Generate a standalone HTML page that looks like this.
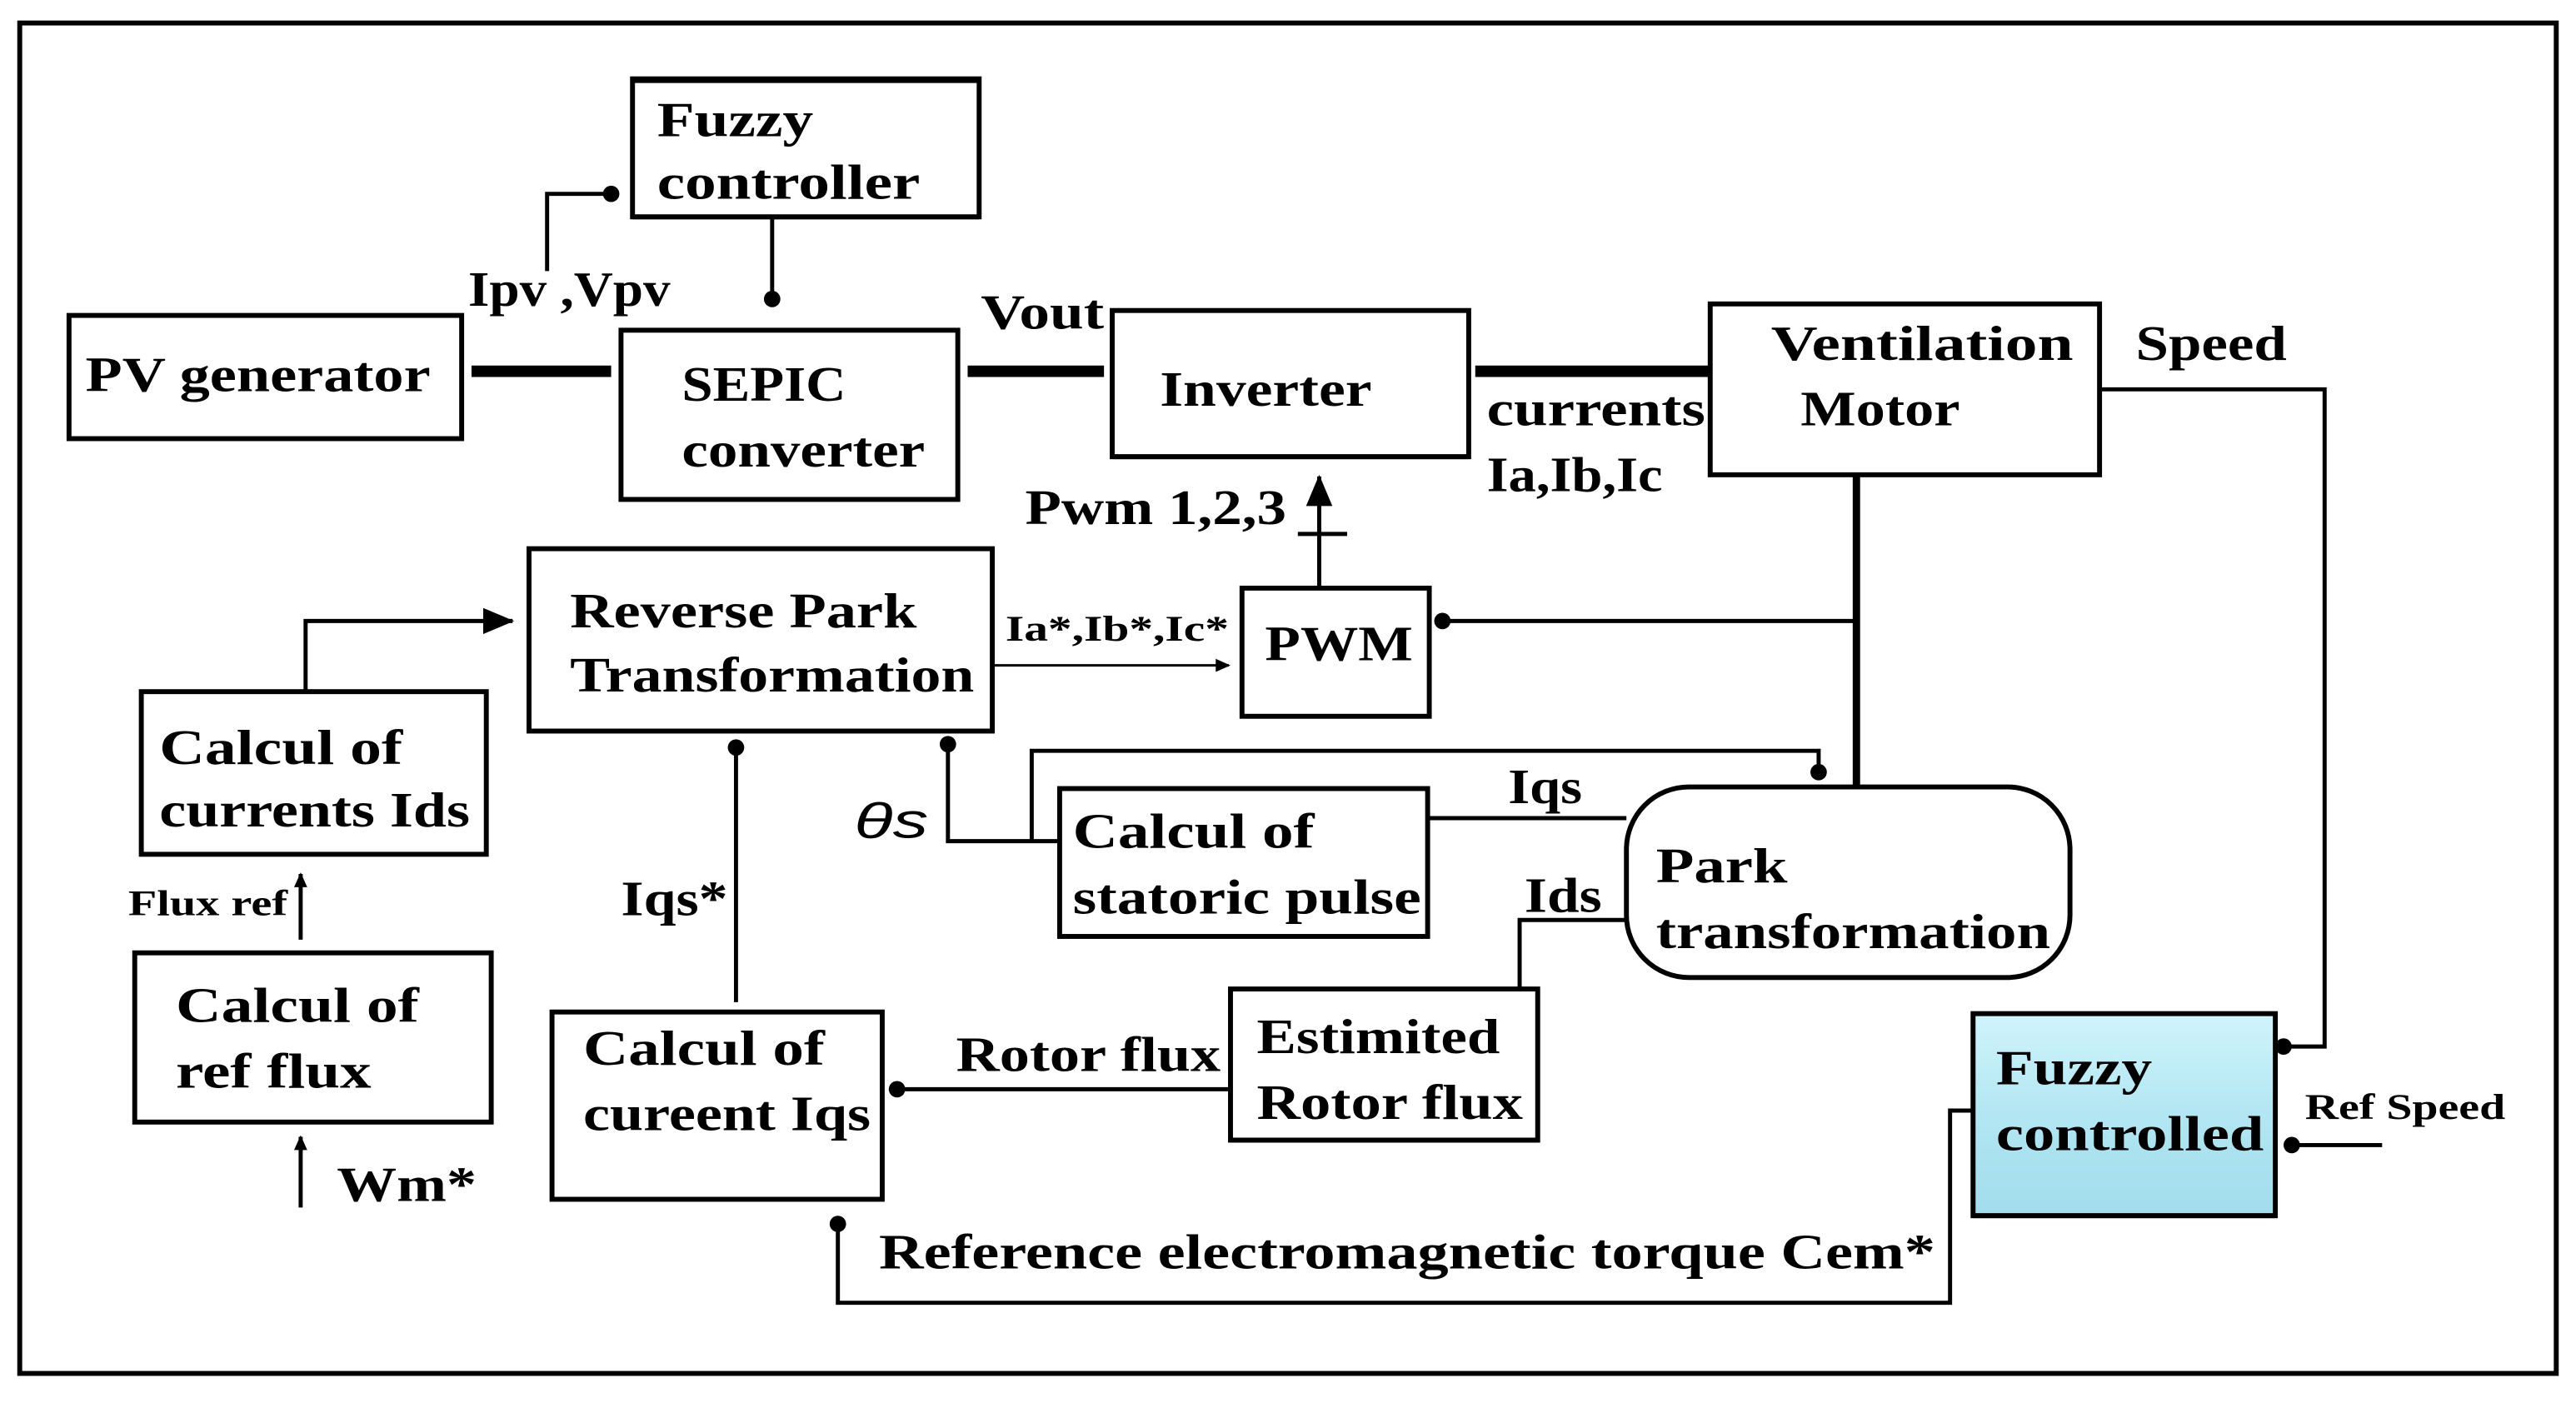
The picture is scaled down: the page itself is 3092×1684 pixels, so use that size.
<!DOCTYPE html>
<html><head><meta charset="utf-8"><style>
html,body{margin:0;padding:0;background:#fff;}
svg{display:block;}
text{font-family:"Liberation Serif",serif;font-weight:bold;font-size:30px;fill:#000;}
.s{font-size:22px;}
</style></head><body>
<svg width="3092" height="1684" viewBox="0 0 1568 854" xmlns="http://www.w3.org/2000/svg">
<defs>
<linearGradient id="g" x1="0" y1="0" x2="0" y2="1"><stop offset="0" stop-color="#d0f4fc"/><stop offset="0.5" stop-color="#b2e6f2"/><stop offset="1" stop-color="#a2dcec"/></linearGradient>
<marker id="a" markerWidth="10" markerHeight="10" refX="8" refY="5" orient="auto" markerUnits="userSpaceOnUse"><path d="M0,1 L9,5 L0,9 Z" fill="#000"/></marker>
<marker id="ab" markerWidth="20" markerHeight="16" refX="18" refY="8" orient="auto" markerUnits="userSpaceOnUse"><path d="M0,0 L19,8 L0,16 Z" fill="#000"/></marker>
</defs>
<rect x="12" y="14" width="1544" height="822" fill="none" stroke="#000" stroke-width="3"/>
<g fill="none" stroke="#000" stroke-width="3">
<rect x="385" y="48" width="211" height="84"/>
<rect x="42" y="192" width="239" height="75"/>
<rect x="378" y="201" width="205" height="103"/>
<rect x="677" y="189" width="217" height="89"/>
<rect x="1041" y="185" width="237" height="104"/>
<rect x="756" y="358" width="114" height="78"/>
<rect x="322" y="334" width="282" height="111"/>
<rect x="86" y="421" width="210" height="99"/>
<rect x="82" y="580" width="217" height="103"/>
<rect x="336" y="616" width="201" height="114"/>
<rect x="749" y="602" width="187" height="92"/>
<rect x="645" y="480" width="224" height="90"/>
<rect x="990" y="479" width="270" height="116" rx="38"/>
<rect x="1201" y="617" width="184" height="123" fill="url(#g)"/>
</g>
<g stroke="#000" stroke-width="3">
<line x1="385" y1="132" x2="596" y2="132"/><line x1="385" y1="49" x2="596" y2="49"/>
<line x1="677" y1="278" x2="894" y2="278"/><line x1="749" y1="694" x2="936" y2="694"/>
<line x1="1201" y1="740" x2="1385" y2="740"/>
</g>
<g fill="none" stroke="#000" stroke-width="2.5">
<polyline points="470,132 470,182"/>
<polyline points="333,165 333,118 370,118"/>
<polyline points="1278,237 1415,237 1415,637 1392,637"/>
<polyline points="1130,378 880,378"/>
<polyline points="803,358 803,290" marker-end="url(#ab)"/>
<line x1="790" y1="325" x2="820" y2="325"/>
<polyline points="186,420 186,378 312,378" marker-end="url(#ab)"/>
<polyline points="183,572 183,532" marker-end="url(#a)"/>
<polyline points="183,735 183,692" marker-end="url(#a)"/>
<polyline points="448,610 448,455"/>
<polyline points="748,663 548,663"/>
<polyline points="925,601 925,560 990,560"/>
<polyline points="869,498 990,498"/>
<polyline points="645,512 577,512 577,452"/>
<polyline points="628,512 628,457 1107,457 1107,470"/>
<polyline points="1450,697 1396,697"/>
<polyline points="1201,676 1187,676 1187,793 510,793 510,747"/>
<line x1="604" y1="405" x2="748" y2="405" stroke-width="1.5" marker-end="url(#a)"/>
</g>
<line x1="1130" y1="289" x2="1130" y2="478" stroke="#000" stroke-width="4.5"/>
<g stroke="#000" stroke-width="7">
<line x1="287" y1="226" x2="372" y2="226"/>
<line x1="589" y1="226" x2="672" y2="226"/>
<line x1="898" y1="226" x2="1040" y2="226"/>
</g>
<g fill="#000">
<circle cx="470" cy="182" r="5"/><circle cx="372" cy="118" r="5"/>
<circle cx="1390" cy="637" r="5"/><circle cx="878" cy="378" r="5"/>
<circle cx="448" cy="455" r="5"/><circle cx="546" cy="663" r="5"/>
<circle cx="577" cy="453" r="5"/><circle cx="1107" cy="470" r="5"/>
<circle cx="1395" cy="697" r="5"/><circle cx="510" cy="745" r="5"/>
</g>
<g lengthAdjust="spacingAndGlyphs">
<text x="400" y="83" textLength="95" lengthAdjust="spacingAndGlyphs">Fuzzy</text>
<text x="400" y="121" textLength="160" lengthAdjust="spacingAndGlyphs">controller</text>
<text x="285" y="186" textLength="123" lengthAdjust="spacingAndGlyphs">Ipv ,Vpv</text>
<text x="52" y="238" textLength="210" lengthAdjust="spacingAndGlyphs">PV generator</text>
<text x="415" y="244" textLength="100" lengthAdjust="spacingAndGlyphs">SEPIC</text>
<text x="415" y="284" textLength="148" lengthAdjust="spacingAndGlyphs">converter</text>
<text x="597" y="200" textLength="75" lengthAdjust="spacingAndGlyphs">Vout</text>
<text x="706" y="247" textLength="129" lengthAdjust="spacingAndGlyphs">Inverter</text>
<text x="905" y="259" textLength="133" lengthAdjust="spacingAndGlyphs">currents</text>
<text x="905" y="299" textLength="107" lengthAdjust="spacingAndGlyphs">Ia,Ib,Ic</text>
<text x="1078" y="219" textLength="184" lengthAdjust="spacingAndGlyphs">Ventilation</text>
<text x="1096" y="259" textLength="97" lengthAdjust="spacingAndGlyphs">Motor</text>
<text x="1300" y="219" textLength="92" lengthAdjust="spacingAndGlyphs">Speed</text>
<text x="624" y="319" textLength="159" lengthAdjust="spacingAndGlyphs">Pwm 1,2,3</text>
<text x="770" y="402" textLength="90" lengthAdjust="spacingAndGlyphs">PWM</text>
<text x="347" y="382" textLength="211" lengthAdjust="spacingAndGlyphs">Reverse Park</text>
<text x="347" y="421" textLength="246" lengthAdjust="spacingAndGlyphs">Transformation</text>
<text x="612" y="390" class="s" textLength="136" lengthAdjust="spacingAndGlyphs">Ia*,Ib*,Ic*</text>
<text x="97" y="465" textLength="148" lengthAdjust="spacingAndGlyphs">Calcul of</text>
<text x="97" y="503" textLength="189" lengthAdjust="spacingAndGlyphs">currents Ids</text>
<text x="78" y="557" class="s" textLength="97" lengthAdjust="spacingAndGlyphs">Flux ref</text>
<text x="107" y="622" textLength="148" lengthAdjust="spacingAndGlyphs">Calcul of</text>
<text x="107" y="662" textLength="119" lengthAdjust="spacingAndGlyphs">ref flux</text>
<text x="205" y="731" font-size="26" textLength="85" lengthAdjust="spacingAndGlyphs">Wm*</text>
<text x="378" y="557" textLength="65" lengthAdjust="spacingAndGlyphs">Iqs*</text>
<text x="355" y="648" textLength="147" lengthAdjust="spacingAndGlyphs">Calcul of</text>
<text x="355" y="688" textLength="175" lengthAdjust="spacingAndGlyphs">cureent Iqs</text>
<text x="582" y="652" textLength="161" lengthAdjust="spacingAndGlyphs">Rotor flux</text>
<text x="765" y="641" textLength="148" lengthAdjust="spacingAndGlyphs">Estimited</text>
<text x="765" y="681" textLength="162" lengthAdjust="spacingAndGlyphs">Rotor flux</text>
<text x="653" y="516" textLength="147" lengthAdjust="spacingAndGlyphs">Calcul of</text>
<text x="653" y="556" textLength="212" lengthAdjust="spacingAndGlyphs">statoric pulse</text>
<text x="918" y="489" font-size="26" textLength="45" lengthAdjust="spacingAndGlyphs">Iqs</text>
<text x="928" y="555" font-size="26" textLength="47" lengthAdjust="spacingAndGlyphs">Ids</text>
<text x="520" y="510" style="font-style:italic;font-weight:normal;font-family:'Liberation Sans',sans-serif" font-size="34" textLength="45" lengthAdjust="spacingAndGlyphs">θs</text>
<text x="1008" y="537" textLength="80" lengthAdjust="spacingAndGlyphs">Park</text>
<text x="1008" y="577" textLength="240" lengthAdjust="spacingAndGlyphs">transformation</text>
<text x="1215" y="660" textLength="95" lengthAdjust="spacingAndGlyphs">Fuzzy</text>
<text x="1215" y="700" textLength="163" lengthAdjust="spacingAndGlyphs">controlled</text>
<text x="1403" y="681" class="s" textLength="122" lengthAdjust="spacingAndGlyphs">Ref Speed</text>
<text x="535" y="772" textLength="643" lengthAdjust="spacingAndGlyphs">Reference electromagnetic torque Cem*</text>
</g>
</svg>
</body></html>
